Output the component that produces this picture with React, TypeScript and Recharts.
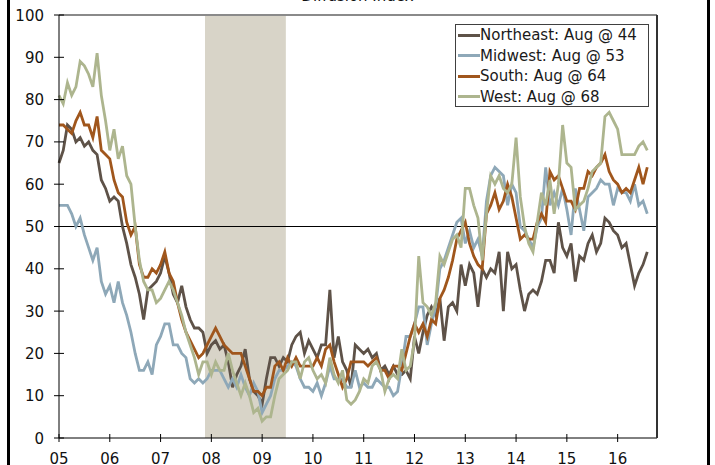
import React from "react";
import {
  LineChart,
  Line,
  XAxis,
  YAxis,
  ReferenceArea,
  ReferenceLine,
  Legend,
} from "recharts";

// monthly readings, Jan 2005 .. Aug 2016
const northeast = [
  65, 68, 74, 73, 70, 71, 69, 70, 68, 67, 61, 59,
  56, 57, 56, 50, 46, 41, 38, 34, 28, 35, 36, 37,
  39, 43, 39, 34, 32, 36, 31, 28, 26, 26, 25, 20,
  22, 23, 21, 22, 18, 12, 15, 17, 21, 14, 11, 10,
  8, 14, 19, 19, 17, 19, 18, 22, 24, 25, 20, 23,
  21, 19, 22, 22, 35, 19, 24, 18, 16, 12, 22, 21,
  20, 21, 19, 20, 16, 17, 15, 17, 15, 15, 16, 14,
  24, 20, 25, 29, 31, 29, 33, 23, 31, 32, 30, 41,
  36, 41, 39, 31, 40, 38, 40, 39, 44, 30, 44, 40,
  41, 35, 30, 34, 35, 34, 37, 42, 42, 39, 51, 45,
  43, 46, 37, 43, 42, 46, 48, 44, 46, 52, 51, 49,
  48, 45, 46, 41, 36, 39, 41, 44,
];
const midwest = [
  55, 55, 55, 53, 50, 52, 48, 45, 42, 45, 37, 34,
  36, 32, 37, 32, 29, 25, 20, 16, 16, 18, 15, 22,
  24, 27, 27, 22, 22, 20, 19, 14, 13, 14, 13, 14,
  16, 16, 16, 14, 12, 14, 12, 15, 12, 10, 13, 11,
  6, 8, 10, 14, 16, 16, 17, 18, 17, 14, 12, 12,
  11, 13, 10, 13, 17, 14, 14, 14, 12, 12, 16, 12,
  13, 12, 12, 14, 13, 12, 12, 10, 11, 17, 24, 24,
  27, 31, 31, 22, 27, 31, 40, 42, 45, 48, 51, 52,
  46, 49, 45, 47, 43, 56, 62, 64, 63, 62, 55, 60,
  58, 50, 49, 47, 45, 50, 52, 64, 55, 58, 55, 59,
  54, 48, 59, 54, 49, 57, 58, 59, 61, 60, 60, 55,
  59, 58, 58, 56, 60, 55, 56, 53,
];
const south = [
  74, 74, 73, 72, 75, 77, 74, 74, 71, 76, 68, 67,
  66, 61, 58, 57, 51, 48, 50, 41, 38, 38, 40, 39,
  41, 44, 39, 37, 32, 28, 25, 23, 21, 19, 20, 22,
  24, 26, 24, 22, 21, 20, 20, 20, 17, 14, 11, 11,
  10, 12, 12, 17, 18, 16, 19, 17, 19, 17, 17, 17,
  17, 19, 17, 21, 22, 18, 15, 12, 14, 18, 18, 18,
  18, 17, 18, 19, 16, 16, 14, 17, 17, 16, 20, 24,
  27, 25, 27, 24, 28, 27, 33, 35, 38, 42, 47, 49,
  51, 46, 43, 41, 40, 53, 55, 58, 54, 56, 60, 57,
  52, 47, 48, 47, 47, 51, 53, 51, 63, 61, 62, 59,
  56, 56, 54, 59, 59, 63, 62, 64, 65, 67, 63, 61,
  60, 58, 59, 58, 61, 64, 60, 64,
];
const west = [
  81, 79, 84, 81, 83, 89, 88, 86, 83, 91, 81, 75,
  68, 73, 66, 69, 62, 60, 50, 42, 37, 35, 35, 32,
  33, 35, 37, 35, 32, 29, 25, 22, 19, 15, 18, 18,
  15, 18, 16, 16, 20, 16, 13, 10, 13, 10, 6, 7,
  4, 5, 5, 10, 14, 15, 16, 18, 18, 14, 18, 19,
  16, 14, 15, 13, 19, 15, 13, 16, 9, 8, 9, 11,
  14, 13, 17, 18, 16, 11, 14, 15, 14, 21, 16, 17,
  23, 43, 32, 31, 29, 32, 43, 41, 44, 47, 48, 45,
  59, 59, 55, 52, 42, 53, 62, 60, 62, 59, 58, 60,
  71, 57, 50, 46, 44, 51, 58, 55, 61, 53, 60, 74,
  65, 64, 54, 55, 56, 59, 63, 64, 65, 76, 77, 75,
  73, 67, 67, 67, 67, 69, 70, 68,
];

const yearLabels = ["05", "06", "07", "08", "09", "10", "11", "12", "13", "14", "15", "16"];
const yTicks = [0, 10, 20, 30, 40, 50, 60, 70, 80, 90, 100];
const seriesNames = ["Northeast: Aug @ 44", "Midwest: Aug @ 53", "South: Aug @ 64", "West: Aug @ 68"];
const seriesColors = ["#5e5248", "#8ea8b8", "#a0561c", "#adb58e"];

// recession, Dec 2007 - Jun 2009 (month index)
const recessionStart = 34.5;
const recessionEnd = 53.6;

const data = northeast.map((v, i) => ({
  m: i,
  ne: v,
  mw: midwest[i],
  so: south[i],
  we: west[i],
}));

const font = "'DejaVu Sans', Verdana, sans-serif";
const plotLeft = 59;
const plotRight = 657;
const plotBottom = 438;

const LeftTick = (props: any) => {
  const { y, payload } = props;
  return (
    <g>
      <line x1={plotLeft - 5} x2={plotLeft + 5} y1={y} y2={y} stroke="#000" />
      <text x={44} y={y + 5.5} textAnchor="end" fontSize={15} fontFamily={font} fill="#111">
        {payload.value}
      </text>
    </g>
  );
};

const RightTick = (props: any) => {
  const { y, payload } = props;
  return (
    <g>
      <line x1={plotRight - 4} x2={plotRight + 4} y1={y} y2={y} stroke="#222" />
      <text x={672} y={y + 5.5} textAnchor="start" fontSize={15} fontFamily={font} fill="#111">
        {payload.value}
      </text>
    </g>
  );
};

const BottomTick = (props: any) => {
  const { x, payload } = props;
  return (
    <g>
      <line x1={x} x2={x} y1={plotBottom - 4} y2={plotBottom + 4} stroke="#000" />
      <text x={x} y={464} textAnchor="middle" fontSize={15} fontFamily={font} fill="#111">
        {yearLabels[Math.round(payload.value / 12)]}
      </text>
    </g>
  );
};

const LegendBox = ({ payload }: any) => {
  const items = [...(payload || [])].sort(
    (a: any, b: any) => seriesNames.indexOf(a.value) - seriesNames.indexOf(b.value)
  );
  return (
    <div
      style={{
        border: "1px solid #404040",
        background: "#fff",
        width: 192,
        height: 81,
        boxSizing: "content-box",
        fontFamily: font,
        fontSize: 15,
        color: "#1a1a1a",
      }}
    >
      {items.map((p: any) => (
        <div key={p.value} style={{ display: "flex", alignItems: "center", height: 20.5, whiteSpace: "nowrap" }}>
          <span style={{ display: "inline-block", width: 22, height: 3, background: p.color, marginLeft: 2 }} />
          <span>{p.value}</span>
        </div>
      ))}
    </div>
  );
};

export default function App() {
  return (
    <div style={{ position: "fixed", left: 0, top: 0, width: 715, height: 465, background: "#fff", overflow: "hidden" }}>
      <div
        style={{
          position: "absolute",
          left: 0,
          width: 715,
          top: -13,
          textAlign: "center",
          fontFamily: font,
          fontSize: 15,
          color: "#111",
          lineHeight: "18px",
        }}
      >
        Diffusion Index
      </div>
      <div style={{ position: "absolute", left: 7, top: 0, width: 3, height: 465, background: "#000" }} />
      <div style={{ position: "absolute", left: 707, top: 0, width: 3, height: 465, background: "#000" }} />
      <div style={{ position: "absolute", left: 0, top: 0 }}>
        <LineChart width={715} height={465} data={data} margin={{ top: 15, right: 0, bottom: 0, left: 0 }}>
          <XAxis
            dataKey="m"
            type="number"
            domain={[0, 141.3]}
            ticks={[0, 12, 24, 36, 48, 60, 72, 84, 96, 108, 120, 132]}
            height={27}
            axisLine={{ stroke: "#000" }}
            tickLine={false}
            tick={<BottomTick />}
            interval={0}
          />
          <YAxis
            yAxisId="left"
            domain={[0, 100]}
            ticks={yTicks}
            width={59}
            axisLine={{ stroke: "#000" }}
            tickLine={false}
            tick={<LeftTick />}
            interval={0}
          />
          <YAxis
            yAxisId="right"
            orientation="right"
            domain={[0, 100]}
            ticks={yTicks}
            width={58}
            axisLine={{ stroke: "#333", strokeWidth: 2 }}
            tickLine={false}
            tick={<RightTick />}
            interval={0}
          />
          <ReferenceArea
            yAxisId="left"
            x1={recessionStart}
            x2={recessionEnd}
            y1={0}
            y2={100}
            fill="#d8d4c8"
            fillOpacity={1}
            stroke="none"
          />
          <ReferenceLine yAxisId="left" y={100} stroke="#8a8a8a" strokeWidth={2} />
          <ReferenceLine yAxisId="left" y={50} stroke="#000" strokeWidth={1} />
          <Line yAxisId="left" dataKey="ne" name={seriesNames[0]} stroke={seriesColors[0]} strokeWidth={2.8} dot={false} isAnimationActive={false} />
          <Line yAxisId="left" dataKey="mw" name={seriesNames[1]} stroke={seriesColors[1]} strokeWidth={2.8} dot={false} isAnimationActive={false} />
          <Line yAxisId="left" dataKey="so" name={seriesNames[2]} stroke={seriesColors[2]} strokeWidth={2.8} dot={false} isAnimationActive={false} />
          <Line yAxisId="left" dataKey="we" name={seriesNames[3]} stroke={seriesColors[3]} strokeWidth={2.8} dot={false} isAnimationActive={false} />
          <Legend
            layout="horizontal"
            align="center"
            verticalAlign="middle"
            content={<LegendBox />}
            wrapperStyle={{ left: 455, top: 24, width: 194, height: 83 }}
          />
        </LineChart>
      </div>
    </div>
  );
}
